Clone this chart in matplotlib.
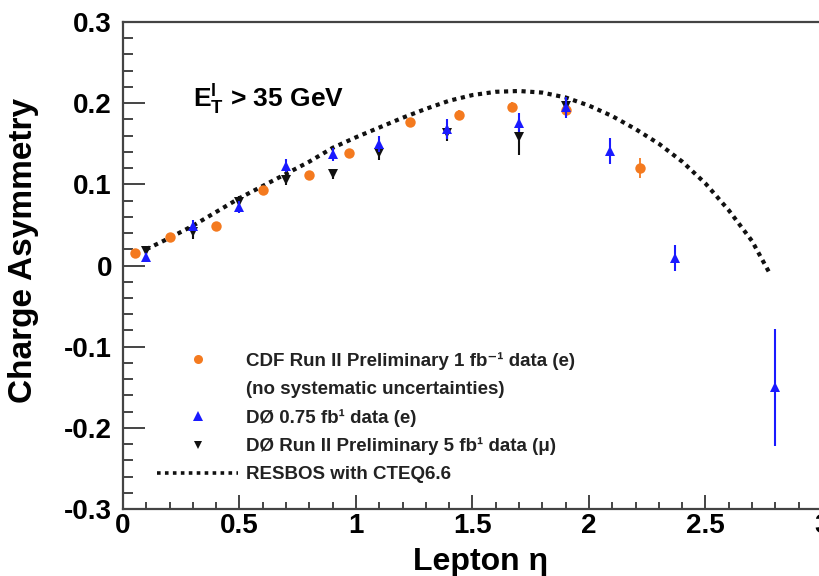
import matplotlib
matplotlib.use("Agg")
import matplotlib.pyplot as plt
from matplotlib.ticker import MultipleLocator
from matplotlib.lines import Line2D

plt.rcParams['font.family'] = ['Liberation Sans', 'DejaVu Sans']
plt.rcParams['font.weight'] = 'bold'
plt.rcParams['mathtext.fontset'] = 'custom'
plt.rcParams['mathtext.rm'] = 'Liberation Sans:bold'
plt.rcParams['mathtext.bf'] = 'Liberation Sans:bold'
plt.rcParams['mathtext.it'] = 'Liberation Sans:bold'

# ---- data ----
cdf_eta = [0.05, 0.20, 0.40, 0.60, 0.80, 0.97, 1.23, 1.44, 1.67, 1.90, 2.22]
cdf_asym = [0.016, 0.035, 0.049, 0.093, 0.111, 0.138, 0.177, 0.186, 0.195, 0.192, 0.120]
cdf_err = [0.004, 0.003, 0.003, 0.003, 0.003, 0.004, 0.004, 0.005, 0.006, 0.008, 0.012]

d0e_eta = [0.10, 0.30, 0.50, 0.70, 0.90, 1.10, 1.39, 1.70, 1.90, 2.09, 2.37, 2.80]
d0e_asym = [0.011, 0.049, 0.072, 0.123, 0.137, 0.150, 0.168, 0.176, 0.195, 0.141, 0.009, -0.150]
d0e_err = [0.005, 0.007, 0.007, 0.008, 0.008, 0.010, 0.012, 0.012, 0.013, 0.016, 0.016, 0.072]

d0mu_eta = [0.10, 0.30, 0.50, 0.70, 0.90, 1.10, 1.39, 1.70, 1.90]
d0mu_asym = [0.018, 0.041, 0.078, 0.105, 0.113, 0.138, 0.163, 0.158, 0.197]
d0mu_err = [0.005, 0.008, 0.008, 0.006, 0.006, 0.008, 0.009, 0.022, 0.010]

resbos_eta = [0.10, 0.20, 0.30, 0.40, 0.50, 0.60, 0.70, 0.80, 0.90, 1.00, 1.10, 1.20,
              1.30, 1.40, 1.50, 1.60, 1.70, 1.80, 1.90, 2.00, 2.10, 2.20, 2.30, 2.40,
              2.50, 2.60, 2.70, 2.78]
resbos_asym = [0.020, 0.034, 0.049, 0.066, 0.083, 0.098, 0.113, 0.128, 0.145, 0.158,
               0.170, 0.182, 0.193, 0.203, 0.210, 0.214, 0.215, 0.213, 0.207, 0.197,
               0.184, 0.168, 0.150, 0.128, 0.101, 0.068, 0.030, -0.012]

x_ticks = [0, 0.5, 1, 1.5, 2, 2.5, 3]
x_ticklabels = ['0', '0.5', '1', '1.5', '2', '2.5', '3']
y_ticks = [-0.3, -0.2, -0.1, 0, 0.1, 0.2, 0.3]
y_ticklabels = ['-0.3', '-0.2', '-0.1', '0', '0.1', '0.2', '0.3']

labels = ['CDF Run II Preliminary 1 fb\u207b\u00b9 data (e)',
          '(no systematic uncertainties)',
          'D\u00d8 0.75 fb\u00b9 data (e)',
          'D\u00d8 Run II Preliminary 5 fb\u00b9 data (\u03bc)',
          'RESBOS with CTEQ6.6']

ORANGE = '#f47a1f'
BLUE = '#1a1aff'
BLACK = '#111111'
SPINE = '#444444'

fig = plt.figure(figsize=(8.2, 5.76), dpi=100)
ax = fig.add_axes([123 / 820, 67 / 576, 699 / 820, 487 / 576])

line, = ax.plot(resbos_eta, resbos_asym, color=BLACK, lw=3.0,
                dashes=(1.0, 1.1), zorder=2)
ax.errorbar(cdf_eta, cdf_asym, yerr=cdf_err, fmt='o', color=ORANGE, ms=7.5,
            elinewidth=1.3, capsize=1.5, mew=0, zorder=3)
ax.errorbar(d0mu_eta, d0mu_asym, yerr=d0mu_err, fmt='v', color=BLACK, ms=6.5,
            elinewidth=1.5, capsize=1.5, mew=0, zorder=4)
ax.errorbar(d0e_eta, d0e_asym, yerr=d0e_err, fmt='^', color=BLUE, ms=7,
            elinewidth=1.5, capsize=1.5, mew=0, zorder=5)

ax.set_xlim(0, 3)
ax.set_ylim(-0.3, 0.3)
ax.set_xticks(x_ticks)
ax.set_xticklabels(x_ticklabels)
ax.set_yticks(y_ticks)
ax.set_yticklabels(y_ticklabels)
ax.xaxis.set_minor_locator(MultipleLocator(0.1))
ax.yaxis.set_minor_locator(MultipleLocator(0.02))

ax.tick_params(axis='both', which='both', direction='in', color=SPINE,
               width=1.4, labelsize=20, top=False, right=False)
ax.tick_params(axis='y', which='major', length=16, pad=8)
ax.tick_params(axis='y', which='minor', length=7.5)
ax.tick_params(axis='x', which='major', length=10, pad=3)
ax.tick_params(axis='x', which='minor', length=5)
for lab in ax.get_xticklabels() + ax.get_yticklabels():
    lab.set_fontweight('bold')
for s in ax.spines.values():
    s.set_color(SPINE)
    s.set_linewidth(1.6)

ax.set_xlabel('Lepton \u03b7', fontsize=23, fontweight='bold')
ax.set_ylabel('Charge Asymmetry', fontsize=24, fontweight='bold')
ax.xaxis.set_label_coords(0.512, -0.078)
ax.yaxis.set_label_coords(-0.12, 0.53)

ax.text(0.10, 0.842, r'$\mathbf{E}_{\mathbf{T}}^{\mathbf{l}}$ > 35 GeV',
        transform=ax.transAxes, fontsize=19, fontweight='bold',
        va='center', ha='left')

h_cdf = Line2D([], [], marker='o', color=ORANGE, ls='none', ms=6.5, mew=0)
h_blank = Line2D([], [], ls='none')
h_d0e = Line2D([], [], marker='^', color=BLUE, ls='none', ms=6.5, mew=0)
h_d0mu = Line2D([], [], marker='v', color=BLACK, ls='none', ms=6, mew=0)
h_line = Line2D([], [], color=BLACK, lw=2.6, dashes=(1.0, 1.2))
leg = ax.legend([h_cdf, h_blank, h_d0e, h_d0mu, h_line], labels,
                loc='upper left', bbox_to_anchor=(0.049, 0.322),
                frameon=False, fontsize=13.5, handlelength=4.3,
                handletextpad=0.45, labelspacing=0.58, borderpad=0,
                borderaxespad=0, numpoints=1)
for t in leg.get_texts():
    t.set_fontweight('bold')
    t.set_color('#222222')

fig.savefig('out.png', dpi=100)
